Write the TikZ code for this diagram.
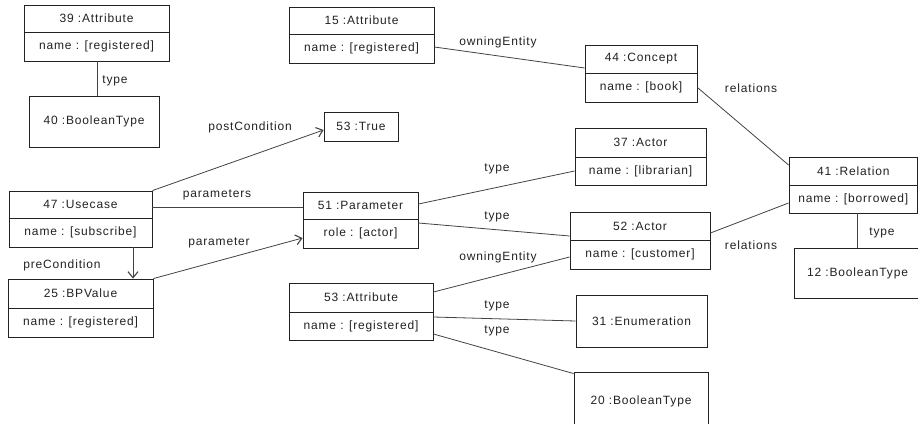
\documentclass[tikz,border=0pt]{standalone}
\usepackage{fontspec}
\setmainfont{Liberation Sans}[LetterSpace=7]
\usetikzlibrary{arrows.meta}
\definecolor{ink}{HTML}{222222}
\tikzset{
  part/.style={draw=ink, line width=0.9pt, inner sep=0pt, text=ink, font=\fontsize{12}{14}\selectfont},
  conn/.style={draw=ink!85, line width=0.8pt},
  arr/.style={conn, -{Straight Barb[length=6pt,width=10pt,line width=1.1pt]}},
  lbl/.style={text=ink, font=\fontsize{12}{14}\selectfont, inner sep=0pt}
}
% name, x1, y1, x2, ydiv, y2, title, attr
\newcommand\objtwo[8]{%
  \node[part, minimum width={(#4-#2)*1pt}, minimum height={(#5-#3)*1pt}] (#1t) at ({(#2+#4)/2},{(#3+#5)/2}) {#7};
  \node[part, minimum width={(#4-#2)*1pt}, minimum height={(#6-#5)*1pt}] (#1a) at ({(#2+#4)/2},{(#5+#6)/2}) {#8};
}
% name, x1, y1, x2, y2, title
\newcommand\objone[6]{%
  \node[part, minimum width={(#4-#2)*1pt}, minimum height={(#5-#3)*1pt}] (#1) at ({(#2+#4)/2},{(#3+#5)/2}) {#6};
}
\begin{document}
\begin{tikzpicture}[x=1pt,y=-1pt]
\useasboundingbox[fill=white] (0,0) rectangle (918,423);

\objtwo{n39}{24}{5}{169}{32}{61}{39 :Attribute}{name : [registered]}
\objone{n40}{29}{96}{159}{147}{40 :BooleanType}
\objtwo{n15}{289}{7}{434}{34}{63}{15 :Attribute}{name : [registered]}
\objtwo{n44}{585}{45}{697}{73}{102}{44 :Concept}{name : [book]}
\objone{nTrue}{324}{112}{398}{141}{53 :True}
\objtwo{n37}{575}{128}{706}{157}{185}{37 :Actor}{name : [librarian]}
\objtwo{n41}{789}{157}{917.5}{185}{213}{41 :Relation}{name : [borrowed]}
\objtwo{n47}{9}{191}{152}{218}{247}{47 :Usecase}{name : [subscribe]}
\objtwo{n51}{303}{192}{418}{219}{248}{51 :Parameter}{role : [actor]}
\objtwo{n52}{570}{212}{710}{240}{269}{52 :Actor}{name : [customer]}
\objone{n12}{794}{248}{921}{298}{12 :BooleanType}
\objtwo{n25}{8}{279}{153}{308}{337}{25 :BPValue}{name : [registered]}
\objtwo{n53}{289}{283}{433}{312}{340}{53 :Attribute}{name : [registered]}
\objone{n31}{576}{295}{707}{347}{31 :Enumeration}
\objone{n20}{574}{372}{708}{430}{20 :BooleanType}

% connectors
\draw[conn] ([xshift=0.5pt]n39a.south) -- ([xshift=0.5pt]n39a.south |- n40.north);
\draw[arr] (n47t.north east) -- ([yshift=-3.5pt]nTrue.west);
\draw[conn] ([yshift=-2.5pt]n47t.east) -- ([yshift=-2.5pt]n47t.east -| n51t.west);
\draw[arr] ([xshift=52.5pt]n47a.south) -- ([xshift=52.5pt]n47a.south |- n25t.north);
\draw[arr] (n25t.north east) -- ([yshift=-4.5pt]n51a.west);
\draw[conn] ([yshift=1.5pt]n15a.east) -- ([yshift=-9pt]n44t.west);
\draw[conn] (n44a.east) -- ([yshift=6pt]n41t.west);
\draw[conn] ([yshift=1.5pt]n51t.east) -- (n37a.west);
\draw[conn] ([yshift=10.5pt]n51a.east) -- ([yshift=-10pt]n52t.west);
\draw[conn] ([yshift=-7pt]n52t.east) -- ([yshift=-4pt]n41a.west);
\draw[conn] (n41a.south -| n12.north) -- (n12.north);
\draw[conn] ([yshift=5.5pt]n53t.east) -- ([yshift=-2.5pt]n52a.west);
\draw[conn] ([yshift=9pt]n53a.east) -- (n31.west);
\draw[conn] ([yshift=-8pt]n53a.east) -- ([yshift=-2pt]n20.north west);

% labels
\node[lbl] (l1) at (115,81) {type};
\node[lbl] (l2) at (250,127) {postCondition};
\node[lbl] (l3) at (217,195) {parameters};
\node[lbl] (l4) at (219,243) {parameter};
\node[lbl] (l5) at (62,265) {preCondition};
\node[lbl] (l6) at (498,42) {owningEntity};
\node[lbl] (l7) at (751,88) {relations};
\node[lbl] (l8) at (497,169) {type};
\node[lbl] (l9) at (497,217) {type};
\node[lbl] (l10) at (498,257) {owningEntity};
\node[lbl] (l11) at (497,306) {type};
\node[lbl] (l12) at (497,331) {type};
\node[lbl] (l13) at (751,245) {relations};
\node[lbl] (l14) at (882,233) {type};
\end{tikzpicture}
\end{document}
